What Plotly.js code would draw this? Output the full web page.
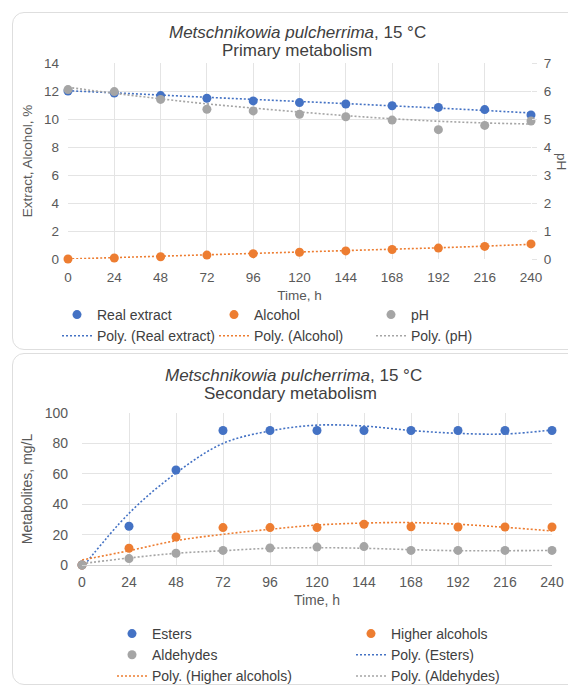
<!DOCTYPE html>
<html>
<head>
<meta charset="utf-8">
<script src="https://cdn.plot.ly/plotly-3.0.1.min.js"></script>
<style>
  html, body { margin: 0; padding: 0; background: #ffffff; width: 568px; height: 686px; overflow: hidden; }
  .card { position: absolute; left: 12px; width: 600px; border: 1px solid #dedede; border-radius: 12px; background: #ffffff; }
  #card1 { top: 12px; height: 336px; }
  #card2 { top: 353px; height: 330px; }
  #chart1 { position: absolute; left: 0; top: 0; width: 568px; height: 350px; }
  #chart2 { position: absolute; left: 0; top: 350px; width: 568px; height: 336px; }
</style>
</head>
<body>
<div class="card" id="card1"></div>
<div class="card" id="card2"></div>
<div id="chart1"></div>
<div id="chart2"></div>
<script>
// ---------- DATA ----------
const hours = [0, 24, 48, 72, 96, 120, 144, 168, 192, 216, 240];

// Primary metabolism
const realExtract = [12.0, 11.86, 11.67, 11.48, 11.29, 11.17, 11.07, 10.95, 10.83, 10.67, 10.29];
const alcohol     = [0.0, 0.07, 0.16, 0.28, 0.38, 0.48, 0.58, 0.68, 0.78, 0.9, 1.08];
const pH          = [6.05, 5.98, 5.70, 5.35, 5.29, 5.17, 5.08, 4.96, 4.62, 4.77, 4.93];
const polyRealExtract = [12.02, 11.87, 11.71, 11.55, 11.40, 11.25, 11.10, 10.94, 10.78, 10.61, 10.43];
const polyAlcohol     = [0.0, 0.1, 0.2, 0.3, 0.4, 0.5, 0.6, 0.7, 0.8, 0.92, 1.05];
const polyPH          = [6.13, 5.92, 5.72, 5.54, 5.39, 5.25, 5.12, 5.01, 4.92, 4.86, 4.82];

// Secondary metabolism
const esters         = [0, 25.5, 62.5, 88.5, 88.5, 88.5, 88.5, 88.5, 88.5, 88.5, 88.5];
const higherAlcohols = [0, 11, 18.4, 24.6, 24.6, 24.6, 26.8, 25.2, 25, 25, 25];
const aldehydes      = [0, 4.2, 7.7, 9.6, 11.2, 11.8, 12.1, 9.6, 9.6, 9.6, 9.6];
const polyEsters         = [-2, 34, 60.5, 80, 88.2, 92, 91.4, 88.5, 86.6, 86.2, 88.8];
const polyHigherAlcohols = [3.3, 9.4, 16, 20.2, 23.5, 26.3, 27.6, 27.9, 26.8, 24.8, 22.4];
const polyAldehydes      = [0.9, 4.6, 7.7, 9.4, 11, 11.4, 11, 10.1, 9.4, 9.4, 9.6];

const leftTicks1 = [0, 2, 4, 6, 8, 10, 12, 14];
const rightTicks1 = [0, 1, 2, 3, 4, 5, 6, 7];
const leftTicks2 = [0, 20, 40, 60, 80, 100];

// ---------- STYLE ----------
const BLUE = '#4472C4', ORANGE = '#ED7D31', GRAY = '#A5A5A5';
const FONT = 'Liberation Sans, Arial, sans-serif';
const GRID = '#e4e4e4';
const DASH = '2px,2px';

function markerTrace(name, y, color, rank, yaxis) {
  return { x: hours, y: y, name: name, type: 'scatter', mode: 'markers', yaxis: yaxis || 'y',
    marker: { color: color, size: 9 }, cliponaxis: false, legendrank: rank, hoverinfo: 'skip' };
}
function polyTrace(name, y, color, rank, yaxis) {
  return { x: hours, y: y, name: name, type: 'scatter', mode: 'lines', yaxis: yaxis || 'y',
    line: { color: color, width: 1.6, dash: DASH, shape: 'spline', smoothing: 1 }, legendrank: rank, hoverinfo: 'skip' };
}

// ---------- CHART 1 ----------
const W = 568;
const m1 = { l: 68, r: 37, t: 63, b: 91, autoexpand: false }, H1 = 350;
const pw1 = W - m1.l - m1.r, ph1 = H1 - m1.t - m1.b;
const px1 = (x) => (x - m1.l) / pw1;
const py1 = (y) => (H1 - m1.b - y) / ph1;

const traces1 = [
  polyTrace('Poly. (Real extract)', polyRealExtract, BLUE, 4),
  polyTrace('Poly. (Alcohol)', polyAlcohol, ORANGE, 5),
  polyTrace('Poly. (pH)', polyPH, GRAY, 6, 'y2'),
  markerTrace('Real extract', realExtract, BLUE, 1),
  markerTrace('Alcohol', alcohol, ORANGE, 2),
  markerTrace('pH', pH, GRAY, 3, 'y2')
];

const layout1 = {
  width: W, height: H1, margin: m1,
  paper_bgcolor: 'rgba(0,0,0,0)', plot_bgcolor: 'rgba(0,0,0,0)',
  font: { family: FONT, color: '#595959', size: 13.5 },
  showlegend: true,
  xaxis: {
    range: [0, 240], tickvals: hours, ticktext: hours.map(String),
    showgrid: true, gridcolor: GRID, gridwidth: 1, zeroline: false, showline: false,
    ticks: '', ticklabelstandoff: 8,
    tickfont: { size: 13.5, color: '#595959' },
    title: { text: 'Time, h', font: { size: 13.5, color: '#595959' }, standoff: 7 }
  },
  yaxis: {
    range: [0, 14], tickvals: leftTicks1, showgrid: true, gridcolor: GRID, zeroline: false,
    ticks: '', ticklabelstandoff: 8,
    tickfont: { size: 13.5, color: '#595959' },
    title: { text: 'Extract, Alcohol, %', font: { size: 13.5, color: '#595959' }, standoff: 8 }
  },
  yaxis2: {
    range: [0, 7], tickvals: rightTicks1, overlaying: 'y', side: 'right',
    showgrid: false, zeroline: false, ticks: 'outside', ticklen: 5, tickcolor: GRID,
    ticklabelstandoff: 4,
    tickfont: { size: 13.5, color: '#595959' }
  },
  legend: {
    orientation: 'h', x: px1(57), xanchor: 'left', y: py1(299), yanchor: 'top',
    entrywidth: 112, entrywidthmode: 'pixels',
    font: { size: 14, color: '#404040', family: FONT }, bgcolor: 'rgba(0,0,0,0)'
  },
  annotations: [
    { text: '<i>Metschnikowia pulcherrima</i>, 15 °C', xref: 'paper', yref: 'paper',
      x: px1(297), y: py1(32), xanchor: 'center', yanchor: 'middle', showarrow: false,
      font: { size: 17, color: '#404040', family: FONT } },
    { text: 'Primary metabolism', xref: 'paper', yref: 'paper',
      x: px1(297), y: py1(50), xanchor: 'center', yanchor: 'middle', showarrow: false,
      font: { size: 17, color: '#404040', family: FONT } },
    { text: 'pH', xref: 'paper', yref: 'paper', x: px1(562), y: py1(161),
      xanchor: 'center', yanchor: 'middle', showarrow: false, textangle: 90,
      font: { size: 13.5, color: '#595959', family: FONT } }
  ]
};

// ---------- CHART 2 ----------
const m2 = { l: 82, r: 16, t: 63, b: 121, autoexpand: false }, H2 = 336;
const pw2 = W - m2.l - m2.r, ph2 = H2 - m2.t - m2.b;
const px2 = (x) => (x - m2.l) / pw2;
const py2 = (y) => (H2 - m2.b - (y - 350)) / ph2;
const LEG2_LEFT = 112;

const traces2 = [
  polyTrace('Poly. (Esters)', polyEsters, BLUE, 4),
  polyTrace('Poly. (Higher alcohols)', polyHigherAlcohols, ORANGE, 5),
  polyTrace('Poly. (Aldehydes)', polyAldehydes, GRAY, 6),
  markerTrace('Esters', esters, BLUE, 1),
  markerTrace('Higher alcohols', higherAlcohols, ORANGE, 2),
  markerTrace('Aldehydes', aldehydes, GRAY, 3)
];

const layout2 = {
  width: W, height: H2, margin: m2,
  paper_bgcolor: 'rgba(0,0,0,0)', plot_bgcolor: 'rgba(0,0,0,0)',
  font: { family: FONT, color: '#595959', size: 14 },
  showlegend: true,
  xaxis: {
    range: [0, 240], tickvals: hours, ticktext: hours.map(String),
    showgrid: true, gridcolor: GRID, zeroline: false,
    showline: true, linecolor: '#d0d0d0', linewidth: 1,
    ticks: '', ticklabelstandoff: 4,
    tickfont: { size: 14, color: '#595959' },
    title: { text: 'Time, h', font: { size: 14, color: '#595959' }, standoff: 6 }
  },
  yaxis: {
    range: [0, 100], tickvals: leftTicks2, showgrid: true, gridcolor: GRID, zeroline: false,
    ticks: '', ticklabelstandoff: 13,
    tickfont: { size: 14, color: '#595959' },
    title: { text: 'Metabolites, mg/L', font: { size: 14, color: '#595959' }, standoff: 8 }
  },
  legend: {
    orientation: 'h', x: px2(LEG2_LEFT + 485), xanchor: 'right', y: py2(618), yanchor: 'top',
    entrywidth: 194, entrywidthmode: 'pixels',
    font: { size: 14, color: '#404040', family: FONT }, bgcolor: 'rgba(0,0,0,0)'
  },
  annotations: [
    { text: '<i>Metschnikowia pulcherrima</i>, 15 °C', xref: 'paper', yref: 'paper',
      x: px2(293), y: py2(375), xanchor: 'center', yanchor: 'middle', showarrow: false,
      font: { size: 17, color: '#404040', family: FONT } },
    { text: 'Secondary metabolism', xref: 'paper', yref: 'paper',
      x: px2(290), y: py2(393), xanchor: 'center', yanchor: 'middle', showarrow: false,
      font: { size: 17, color: '#404040', family: FONT } }
  ]
};

const cfg = { staticPlot: true, displayModeBar: false };
Plotly.newPlot('chart1', traces1, layout1, cfg);
Plotly.newPlot('chart2', traces2, layout2, cfg).then(function (gd) {
  const L = gd._fullLayout.legend;
  if (L && L._width) {
    const right = LEG2_LEFT + L._width;
    return Plotly.relayout(gd, { 'legend.x': px2(right) });
  }
});
</script>
</body>
</html>
